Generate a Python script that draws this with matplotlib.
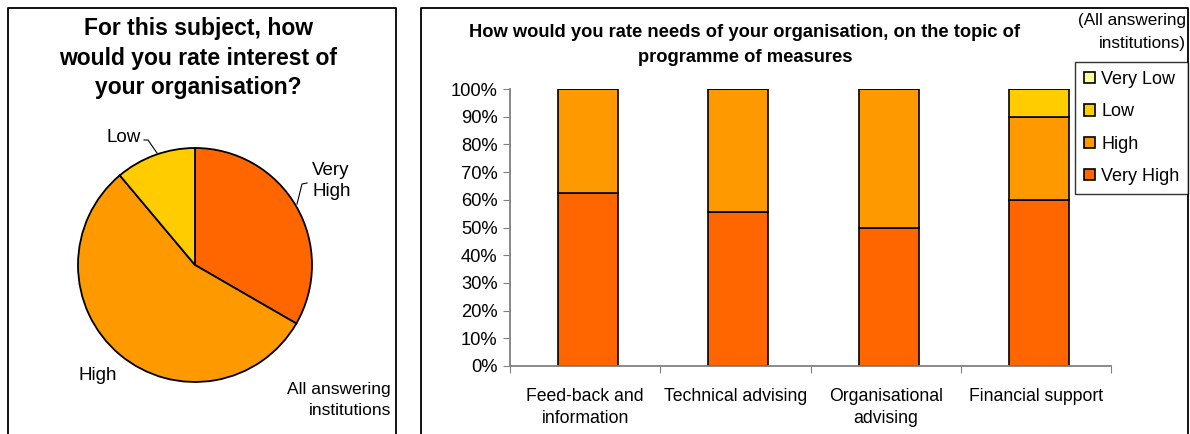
import matplotlib
matplotlib.use("Agg")
import matplotlib.pyplot as plt
import numpy as np

plt.rcParams['font.family'] = ['Liberation Sans', 'DejaVu Sans']

# ---- data ----
pie_labels = ["Very\nHigh", "High", "Low"]
pie_values = [3, 5, 1]
pie_colors = ["#FF6600", "#FF9900", "#FFCC00"]

categories = ["Feed-back and\ninformation", "Technical advising", "Organisational\nadvising", "Financial support"]
very_high = [62.5, 55.5, 50.0, 60.0]
high = [37.5, 44.5, 50.0, 30.0]
low = [0.0, 0.0, 0.0, 10.0]
very_low = [0.0, 0.0, 0.0, 0.0]
series_names = ["Very High", "High", "Low", "Very Low"]
series_colors = ["#FF6600", "#FF9900", "#FFCC00", "#FFFF99"]
yticks = [0, 10, 20, 30, 40, 50, 60, 70, 80, 90, 100]

W, H = 1190, 434
fig = plt.figure(figsize=(W / 100, H / 100), dpi=100)

def fx(x):
    return x / W

def fy(y):
    return 1 - y / H

# panel borders (open at the bottom)
for x0, x1 in [(8, 396), (421, 1188)]:
    fig.add_artist(plt.Line2D([fx(x0), fx(x0), fx(x1), fx(x1)], [0, fy(7.5), fy(7.5), 0],
                              color="black", lw=1.3, transform=fig.transFigure))

# ---- left: pie ----
fig.text(fx(198), fy(58), "For this subject, how\nwould you rate interest of\nyour organisation?",
         ha="center", va="center", fontsize=16.5, fontweight="bold", linespacing=1.38)

cx, cy, r = 195, 265, 117
axp = fig.add_axes([fx(cx - r), fy(cy + r), 2 * r / W, 2 * r / H])
wedges, texts = axp.pie(pie_values, colors=pie_colors, startangle=90, counterclock=False,
                        radius=1, wedgeprops=dict(edgecolor="black", linewidth=1.3),
                        labels=None)
axp.set_xlim(-1, 1)
axp.set_ylim(-1, 1)
axp.set_aspect("auto")
axp.axis("off")

def to_data(px, py):
    return ((px - cx) / r, (cy - py) / r)

# Very High label
axp.text(*to_data(312, 181), pie_labels[0], ha="left", va="center", fontsize=13.5, linespacing=1.25)
axp.plot(*zip(to_data(307, 183), to_data(302, 184), to_data(297, 204)), color="black", lw=0.8, clip_on=False)
# High label
axp.text(*to_data(78, 376), pie_labels[1], ha="left", va="center", fontsize=13.5)
# Low label
axp.text(*to_data(106, 138), pie_labels[2], ha="left", va="center", fontsize=13.5)
axp.plot(*zip(to_data(144, 140), to_data(148, 140), to_data(157, 153)), color="black", lw=0.8, clip_on=False)

fig.text(fx(391), fy(400), "All answering\ninstitutions", ha="right", va="center",
         fontsize=12.5, linespacing=1.55)

# ---- right: stacked bars ----
axb = fig.add_axes([fx(510), fy(366), (1111 - 510) / W, (366 - 89) / H])
x = np.arange(len(categories))
bottom = np.zeros(len(categories))
handles = []
for name, vals, col in zip(series_names, [very_high, high, low, very_low], series_colors):
    vals = np.array(vals)
    b = axb.bar(x + 0.02, vals, 0.4, bottom=bottom, color=col, edgecolor="black", linewidth=1.2,
                label=name)
    handles.append(b)
    bottom += vals

axb.set_xlim(-0.5, len(categories) - 0.5)
axb.set_ylim(0, 100)
axb.set_yticks(yticks)
axb.set_yticklabels([f"{t}%" for t in yticks], fontsize=13.2)
axb.set_xticks(np.arange(-0.5, len(categories), 1.0))
axb.set_xticklabels([])
axb.set_xticks(x, minor=True)
axb.set_xticklabels(categories, minor=True, fontsize=12.7, linespacing=1.4)
axb.tick_params(axis="x", which="minor", length=0, pad=16)
axb.tick_params(axis="x", which="major", length=5, color="#808080", direction="out")
axb.tick_params(axis="y", length=5, color="#808080", direction="out", pad=4)
for s in ["top", "right"]:
    axb.spines[s].set_visible(False)
for s in ["left", "bottom"]:
    axb.spines[s].set_color("#808080")
    axb.spines[s].set_linewidth(1.3)

fig.text(fx(745), fy(45), "How would you rate needs of your organisation, on the topic of\nprogramme of measures",
         ha="center", va="center", fontsize=13.2, fontweight="bold", linespacing=1.6)

fig.text(fx(1186), fy(32), "(All answering\ninstitutions)", ha="right", va="center",
         fontsize=12.3, linespacing=1.7)

leg = fig.legend(handles[::-1], series_names[::-1], loc="upper left",
                 bbox_to_anchor=(fx(1075), fy(62)), frameon=True, fancybox=False,
                 edgecolor="black", fontsize=13.0, handlelength=0.6, handleheight=0.6,
                 handletextpad=0.35, labelspacing=0.85, borderpad=0.5, borderaxespad=0)
leg.get_frame().set_linewidth(1.0)

fig.savefig("out.png", dpi=100)
